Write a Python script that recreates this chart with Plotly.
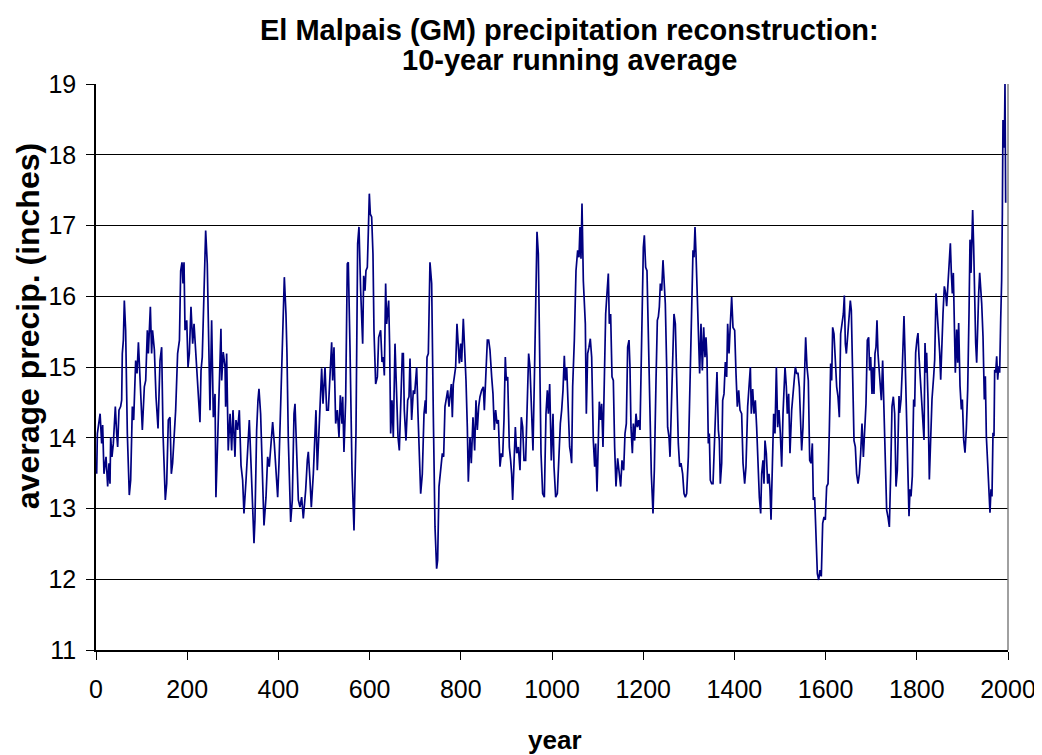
import plotly.graph_objects as go

years = [1.5, 3, 9, 12.4, 14.6, 17.5, 22, 25.6, 28.5, 30.7, 32.2, 35, 38, 42.4, 45.3, 47.5, 50.4, 54, 56.3, 57.7,
         60, 62.1, 65, 68.7, 73, 76, 79.7, 82.6, 87, 90, 93, 96.5, 101.6, 106, 109, 112.6, 114.8, 119.2, 122, 124,
         128, 131.6, 136, 140.4, 144, 147, 149.8, 152, 155, 158.6, 162.3, 165.2, 168, 171.8, 174.7, 179, 183, 185.7,
         188.6, 190.8, 193, 195.2, 199, 201.8, 204.7, 208.3, 212, 215, 218, 222.2, 225, 228, 230.3, 233, 237, 240.5,
         244, 248.5, 250, 253.6, 257.3, 261, 263, 266.8, 270.4, 274, 275.6, 279, 283, 284.3, 286.5, 290, 294, 297.5,
         300.4, 304.8, 307, 310.6, 314.3, 318, 321.6, 324.5, 329, 334, 336.2, 339.9, 343.5, 346.5, 348.6, 352.3, 355.2,
         357.4, 361, 364.7, 368.4, 372.8, 376.4, 380, 383.7, 387.4, 391, 394.7, 398.4, 401.3, 405.7, 409.3, 413, 416.6,
         418.8, 421.8, 424.7, 426.9, 430.5, 434.2, 436.4, 440.8, 443.7, 447.3, 451, 454.6, 459.8, 463.4, 465.6, 469.3,
         472.2, 476.6, 480.2, 482.4, 485.3, 489, 492, 494.9, 497.8, 502.2, 505.8, 509.5, 513, 516.8, 519, 521.9, 525.6,
         529.2, 532.9, 535.8, 539.4, 541, 543.8, 547.5, 551.1, 553.3, 557, 561.4, 565.8, 570.1, 573.8, 576.7, 580.4,
         584.8, 587, 590, 592, 595, 597.2, 599.4, 601.6, 604.5, 607.4, 609.6, 613.3, 617, 619.9, 624.2, 627.2, 630,
         632.3, 635.2, 637.4, 641.8, 644, 646.2, 649.1, 652, 655.7, 659.3, 662.3, 665.2, 668, 671.7, 674, 676.1, 679.8,
         683.5, 686.4, 688.6, 692.2, 695.9, 698.8, 703.2, 706.1, 709, 712, 715.6, 719.3, 722.2, 723.7, 725.9, 728.8,
         732.4, 736.1, 739.7, 743.4, 747, 749.2, 752.2, 756.6, 759.5, 762.4, 765.3, 769, 771.2, 774.1, 776.3, 779.2,
         781.4, 783.6, 785.8, 788.7, 791.6, 794.6, 796.8, 799.7, 801.9, 805.5, 809.2, 811.4, 814.3, 816.5, 820.2, 823,
         826.7, 830.4, 833.3, 836.2, 839.2, 842.1, 845.7, 849.4, 851.6, 854.5, 858.2, 861.1, 864, 867.7, 870.6, 873.5,
         876.4, 879.4, 882.3, 886, 888.9, 891.8, 894.7, 897.6, 899.8, 902.8, 906.4, 909.3, 911.5, 913.7, 916.6, 919.6,
         922.5, 926.2, 929.8, 932.7, 935.7, 938.6, 942.2, 945.9, 948.8, 951.7, 955.4, 958.3, 962, 964.9, 967.1, 970,
         973, 975.9, 979.5, 983.2, 986.8, 989.8, 992, 994.9, 998.5, 1002.2, 1004.4, 1008, 1011.7, 1015.3, 1018.3, 1021.2,
         1024.1, 1027, 1029.2, 1032.2, 1035.8, 1038.7, 1040.9, 1043.1, 1045.3, 1049, 1052.6, 1056.3, 1059.2, 1061.4,
         1063.6, 1065.8, 1068.7, 1070.9, 1073.1, 1075.3, 1078.2, 1081.1, 1084, 1087, 1090.6, 1093.6, 1095.7, 1098.7,
         1101.6, 1103.8, 1106.7, 1108.9, 1111.8, 1114.8, 1117.7, 1120.6, 1123.5, 1125.7, 1128.6, 1131.6, 1134.5, 1137.4,
         1140.3, 1144, 1146.9, 1150.6, 1153.5, 1157.2, 1160.1, 1163, 1165.9, 1168.9, 1171, 1173.2, 1176.2, 1178.4,
         1181.3, 1184.2, 1187.1, 1190, 1193, 1196.6, 1200.3, 1202.5, 1205.4, 1208.3, 1212, 1214.9, 1217.8, 1221.5,
         1224.4, 1228.1, 1231, 1233.2, 1235.4, 1237.6, 1240.5, 1243.4, 1246.3, 1248.5, 1251.5, 1253.6, 1256.6, 1258.8,
         1261, 1263.9, 1267.5, 1270.5, 1273.4, 1277, 1280, 1282.9, 1286.5, 1289.5, 1292.4, 1295.3, 1299, 1301.9,
         1304.8, 1307, 1309.2, 1311.4, 1313.6, 1315.8, 1318, 1320.9, 1323.8, 1326.7, 1329.7, 1332.6, 1335.5, 1337.7,
         1339.9, 1342.8, 1345, 1347.2, 1350.1, 1353.1, 1356, 1358.9, 1361.8, 1364.8, 1367, 1369.1, 1372.1, 1374.3,
         1377.2, 1380.1, 1383, 1385.2, 1388.2, 1391.1, 1394, 1396.9, 1400.6, 1403.5, 1406.4, 1409.4, 1412.3, 1415.9,
         1418.9, 1422.5, 1425.4, 1429.1, 1432, 1435, 1437.1, 1440.1, 1443, 1445.9, 1448.8, 1451.8, 1454.7, 1457.6,
         1459.8, 1462.7, 1464.9, 1467.1, 1470, 1473, 1475.9, 1478.1, 1480.3, 1483.2, 1486.1, 1489, 1492, 1494.9,
         1497.8, 1500.7, 1503.7, 1506.6, 1509.5, 1511, 1513.9, 1516, 1519, 1521.9, 1525.6, 1527.8, 1530.7, 1533.6,
         1536.5, 1539.5, 1542.4, 1545.3, 1547.5, 1550.4, 1553.4, 1556.3, 1559.2, 1562.1, 1565.1, 1568, 1570.9, 1573.1,
         1576, 1579, 1581.9, 1584.8, 1587.7, 1590.6, 1593.6, 1596.5, 1599.4, 1602.3, 1605.3, 1608.2, 1611.1, 1613.3,
         1615.5, 1618.4, 1621.3, 1624.3, 1627.2, 1630.1, 1633, 1636, 1638.9, 1641.1, 1643.3, 1645.5, 1648.4, 1651.3,
         1654.2, 1656.4, 1659.4, 1662.3, 1665.2, 1668.1, 1671.1, 1674, 1676.9, 1679.8, 1682.8, 1685.7, 1688.6, 1691.5,
         1694.4, 1696.6, 1698.8, 1701.8, 1704, 1706.1, 1708.3, 1710.5, 1712.7, 1714.9, 1717.1, 1719.3, 1722.2, 1725.1,
         1728.1, 1731, 1733.9, 1736.8, 1739.8, 1742.7, 1745.6, 1748.5, 1751.5, 1754.4, 1757.3, 1759.5, 1761, 1762.4,
         1765.4, 1768.3, 1771.9, 1774.1, 1777.8, 1781.4, 1782.9, 1785.1, 1787.3, 1790.2, 1793.1, 1795.3, 1797.5, 1800.4,
         1802.6, 1804.8, 1807.8, 1810.7, 1813.6, 1815.8, 1818, 1820.2, 1821.6, 1824.6, 1827.5, 1830.4, 1833.3, 1837,
         1839.2, 1842.1, 1845, 1847.2, 1850.2, 1852.4, 1854.5, 1857.5, 1860.4, 1863.3, 1865.5, 1867.7, 1870.6, 1873.6,
         1875.7, 1877.9, 1880.1, 1882.3, 1884.5, 1887.4, 1889.6, 1891.8, 1894.8, 1897.7, 1899.9, 1902.8, 1905.7, 1908.6,
         1911.6, 1914.5, 1916.7, 1918.9, 1921.1, 1922.5, 1924.7, 1926.9, 1929.1, 1931.3, 1933.5, 1935.7, 1937.9, 1940.1,
         1942.3, 1945.2, 1948.1, 1950.3, 1952.5, 1955.4, 1957.6, 1960.5, 1962.7, 1964.9, 1967.1, 1969.3, 1970.8, 1973,
         1975.2, 1977.4, 1979.5, 1981.7, 1984, 1986.1, 1987.6, 1989, 1990.5, 1992, 1993.4, 1994.9]

precip = [13.49, 14.06, 14.34, 13.92, 14.18, 13.49, 13.73, 13.31, 13.64, 13.35, 14.01, 13.73, 13.92, 14.44, 14.06, 13.87, 14.39, 14.44, 14.53, 15.19,
          15.38, 15.94, 15.52, 14.06, 13.19, 13.40, 14.44, 14.25, 15.09, 14.91, 15.35, 14.81, 14.11, 14.72, 14.81, 15.52, 15.19, 15.85, 15.19, 15.52,
          15.24, 14.58, 14.13, 15.09, 15.28, 14.06, 13.35, 13.12, 13.35, 14.25, 14.29, 13.49, 13.64, 14.01, 14.39, 15.19, 15.38, 16.36,
          16.48, 16.18, 16.48, 15.52, 15.66, 15.00, 15.19, 15.85, 15.33, 15.61, 15.28, 14.91, 14.58, 14.22, 14.95, 15.14, 16.08, 16.93,
          16.46, 14.39, 14.39, 15.66, 14.29, 14.62, 13.16, 13.96, 14.72, 15.54, 14.81, 15.21, 15.00, 14.44, 15.19, 13.82, 14.34, 13.82,
          14.39, 13.73, 14.25, 14.11, 14.39, 13.61, 13.40, 12.93, 13.40, 14.06, 14.25, 13.64, 12.88, 12.51, 12.84, 14.11, 14.53,
          14.69, 14.34, 13.49, 12.76, 13.16, 13.73, 13.59, 13.92, 14.22, 13.92, 13.59, 13.16, 13.64, 14.58, 15.14, 16.27, 15.75,
          15.19, 13.96, 13.26, 12.81, 13.12, 14.34, 14.48, 13.54, 13.12, 13.02, 13.16, 12.86, 13.26, 13.68, 13.80, 13.40,
          13.02, 13.49, 14.25, 14.39, 13.54, 14.11, 14.72, 14.98, 14.48, 15.00, 14.39, 14.39, 14.86, 15.35, 14.81, 15.28, 14.20,
          14.39, 14.01, 14.60, 14.20, 14.58, 13.80, 14.53, 16.46, 16.48, 15.28, 13.54, 12.69, 14.06, 16.74, 16.98, 16.08,
          15.33, 16.29, 16.08, 16.36, 16.41, 16.91, 17.45, 17.16, 17.12, 16.60, 15.52, 14.76, 14.86, 15.42, 15.52, 15.07, 15.14,
          14.88, 16.18, 15.61, 15.94, 15.28, 14.06, 14.53, 14.01, 15.33, 14.72, 14.01, 13.82, 14.34, 15.19, 15.19, 14.39, 13.96,
          14.53, 14.58, 15.12, 14.25, 14.67, 14.62, 15.00, 14.34, 13.64, 13.21, 13.49, 14.34, 14.53, 14.34, 15.14, 15.19,
          16.48, 16.18, 14.34, 12.74, 12.15, 12.27, 13.31, 13.64, 13.78, 13.73, 14.44, 14.58, 14.67, 14.44, 14.58, 14.76,
          14.29, 14.76, 14.86, 15.00, 15.61, 15.33, 15.05, 15.33, 15.07, 15.68, 15.24, 14.81, 14.15, 13.38, 14.01, 13.64,
          14.29, 13.82, 14.53, 14.11, 14.44, 14.58, 14.67, 14.72, 14.39, 14.81, 15.38, 15.38, 15.24, 14.86, 14.62, 14.11,
          14.39, 14.20, 14.25, 13.59, 13.78, 13.73, 14.25, 15.14, 14.81, 14.86, 13.87, 13.68, 13.49, 13.12, 13.78, 14.15,
          13.78, 13.87, 13.54, 14.29, 14.15, 13.68, 13.68, 14.72, 15.19, 15.00, 14.39, 13.82, 15.05, 16.13, 16.91, 16.60,
          15.28, 13.78, 13.21, 13.16, 14.34, 14.67, 14.34, 14.76, 13.68, 14.34, 13.59, 13.16, 13.21, 13.78, 14.20, 14.39,
          14.67, 15.16, 14.81, 15.00, 14.34, 13.87, 13.78, 13.64, 14.72, 15.38, 16.36, 16.65, 16.55, 16.98,
          16.53, 17.31, 16.22, 15.75, 15.61, 14.34, 15.19, 15.28, 15.40, 15.14, 13.96, 13.59, 13.92, 13.24,
          14.25, 14.51, 14.25, 14.48, 13.87, 14.81, 15.75, 16.04, 16.32, 15.61, 15.75, 14.86, 14.81, 13.87,
          13.31, 13.71, 13.49, 13.31, 13.68, 13.54, 14.06, 14.20, 15.28, 15.38, 15.00, 14.15, 13.78, 14.20,
          13.96, 14.34, 14.15, 14.25, 14.11, 15.75, 16.69, 16.86, 16.41, 16.36, 15.28, 14.34, 13.49, 12.93,
          13.54, 14.81, 15.66, 15.71, 15.85, 16.18, 16.08, 16.51, 16.08, 15.89, 15.00, 14.15, 14.01, 13.73,
          14.25, 14.91, 15.75, 15.61, 14.81, 13.92, 13.59, 13.64, 13.49, 13.21, 13.16, 13.21, 13.73, 14.53,
          15.38, 15.94, 16.65, 16.55, 16.98, 16.60, 16.08, 15.66, 14.91, 15.61, 14.95, 15.56, 15.14, 15.42,
          15.14, 13.92, 14.06, 13.40, 13.35, 13.35, 13.87, 14.53, 14.93, 14.11, 13.96, 13.35, 13.64, 14.53,
          14.62, 15.07, 14.86, 15.61, 15.19, 15.61, 15.99, 15.56, 15.52, 14.91, 14.44, 14.67, 14.39, 14.34,
          13.64, 13.35, 13.59, 14.44, 14.81, 15.00, 14.34, 14.69, 14.34, 14.53, 14.15, 13.54, 13.16, 12.93,
          13.49, 13.68, 13.35, 13.96, 13.78, 13.35, 13.49, 13.26, 12.84, 13.59, 14.34, 14.06, 15.00, 14.15,
          14.39, 14.06, 13.59, 14.34, 14.76, 15.00, 14.72, 14.34, 14.62, 13.78, 14.39, 14.58, 14.81,
          15.00, 14.91, 14.91, 14.72, 14.01, 13.82, 14.15, 14.72, 15.42, 15.00, 14.81, 13.68, 13.64, 13.92,
          13.12, 13.16, 12.55, 12.08, 11.99, 12.13, 12.04, 12.79, 12.88, 12.84, 13.31, 13.35, 14.11, 15.05,
          14.81, 15.56, 15.47, 15.00, 14.72, 14.58, 14.29, 15.47, 15.66, 15.75, 16.01, 15.33, 15.19, 15.47,
          15.75, 15.94, 15.80, 14.53, 13.96, 13.87, 13.49, 13.35, 13.49, 13.78, 14.20, 13.73, 14.11, 14.48,
          15.38, 15.42, 14.95, 15.14, 14.62, 15.00, 14.62, 15.19, 15.28, 15.66, 15.19, 15.00, 14.91, 14.53,
          15.09, 14.34, 13.49, 12.98, 12.88, 12.74, 13.49, 14.44, 14.58, 14.34, 13.31, 13.54, 14.15, 14.59, 14.35,
          14.54, 15.00, 15.72, 15.20, 14.07, 13.36, 12.89, 13.27, 13.17, 13.46, 14.54, 14.44, 15.20, 15.39,
          15.48, 15.15, 14.82, 14.44, 14.16, 13.97, 15.34, 14.92, 15.20, 14.54, 13.41, 13.88, 14.54, 14.87,
          15.10, 16.04, 15.76, 15.39, 15.20, 14.82, 15.34, 15.76, 16.14, 16.04, 15.86, 16.09, 16.56, 16.75,
          16.33, 16.04, 16.33, 15.29, 14.92, 15.53, 15.06, 15.62, 14.73, 14.40, 14.54, 13.97, 13.79, 14.12,
          14.68, 15.76, 16.80, 16.33, 16.89, 17.22, 16.70, 15.67, 15.34, 15.06, 15.81, 16.04, 16.33, 16.14,
          15.90, 15.43, 14.54, 14.87, 14.02, 13.64, 13.41, 12.94, 13.27, 13.17, 14.07, 14.02, 14.96, 14.92,
          15.15, 14.82, 15.01, 14.92, 15.67, 16.23, 17.17, 18.49, 18.30, 18.10, 19.00, 17.32]

n = min(len(years), len(precip))
years = years[:n]
precip = precip[:n]

x_ticks = [0, 200, 400, 600, 800, 1000, 1200, 1400, 1600, 1800, 2000]
y_ticks = [11, 12, 13, 14, 15, 16, 17, 18, 19]

title_lines = ["El Malpais (GM) precipitation reconstruction:", "10-year running average"]
x_title = "year"
y_title = "average precip. (inches)"

FONT = "Liberation Sans, Arial, sans-serif"

fig = go.Figure()
fig.add_trace(go.Scatter(
    x=years, y=precip, mode="lines",
    line=dict(color="#000080", width=1.7),
    showlegend=False, hoverinfo="x+y"))

# page body has an 8px margin: plot area in page coords is x 96..1008, y 84..650
fig.update_layout(
    width=1034, height=747, autosize=False,
    paper_bgcolor="white", plot_bgcolor="white",
    margin=dict(l=88, r=34, t=76, b=105),
    font=dict(family=FONT, size=20, color="black"),
)

fig.update_xaxes(
    range=[0, 2000], tickvals=x_ticks, ticktext=[str(v) for v in x_ticks],
    showgrid=False, zeroline=False, automargin=False,
    showline=True, linecolor="black", linewidth=1.5,
    ticks="outside", ticklen=8, tickcolor="black", tickwidth=1,
    ticklabelstandoff=8,
    tickfont=dict(family=FONT, size=25, color="black"),
)
fig.update_yaxes(
    range=[11, 19], tickvals=y_ticks, ticktext=[str(v) for v in y_ticks],
    showgrid=True, gridcolor="black", gridwidth=1,
    zeroline=False, automargin=False,
    showline=True, linecolor="black", linewidth=1.5,
    ticks="outside", ticklen=8, tickcolor="black", tickwidth=1,
    ticklabelstandoff=5,
    tickfont=dict(family=FONT, size=25, color="black"),
)

fig.add_shape(type="line", xref="paper", yref="paper", x0=1, x1=1, y0=0, y1=1,
              line=dict(color="#808080", width=1.5))

for line_text, ypos in zip(title_lines, [1.0954, 1.0424]):
    fig.add_annotation(text="<b>" + line_text + "</b>", xref="paper", yref="paper",
                       x=0.5197, y=ypos, xanchor="center", yanchor="middle", showarrow=False,
                       font=dict(family=FONT, size=29, color="black"))
fig.add_annotation(text="<b>" + x_title + "</b>", xref="paper", yref="paper",
                   x=0.503, y=-0.159, xanchor="center", yanchor="middle", showarrow=False,
                   font=dict(family=FONT, size=26, color="black"))
fig.add_annotation(text="<b>" + y_title + "</b>", xref="paper", yref="paper",
                   x=-0.0746, y=0.572, xanchor="center", yanchor="middle", showarrow=False,
                   textangle=-90, font=dict(family=FONT, size=32, color="black"))

fig.write_html("out.html")
